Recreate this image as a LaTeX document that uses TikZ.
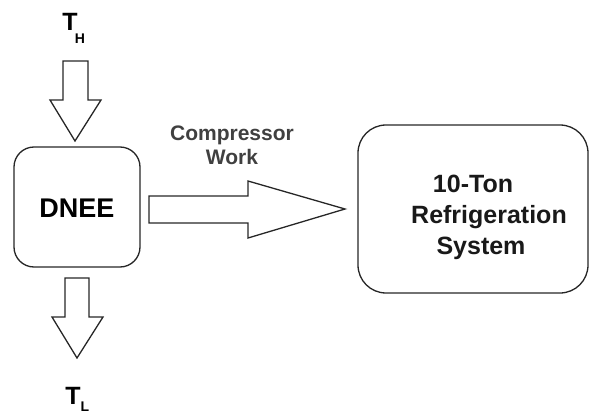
\documentclass[tikz,border=0pt]{standalone}
\usepackage{fontspec}
\setmainfont{Liberation Sans}
\begin{document}
\begin{tikzpicture}[x=1pt,y=-1pt,
  outline/.style={draw=black!85,line width=1.3pt,line join=miter},
  box/.style={outline,rounded corners=20pt},
  bigtxt/.style={font=\fontsize{27}{27}\selectfont\bfseries,inner sep=0pt},
  systxt/.style={font=\fontsize{25}{31}\selectfont\bfseries,align=center,inner sep=0pt,text=black!90},
  lbltxt/.style={font=\fontsize{21}{24}\selectfont\bfseries,align=center,inner sep=0pt,text=black!75},
  ttxt/.style={font=\fontsize{25}{25}\selectfont\bfseries,inner sep=0pt},
  subtxt/.style={font=\fontsize{14}{14}\selectfont\bfseries,inner sep=0pt}]
\useasboundingbox (0,0) rectangle (590,415);
% boxes
\draw[box] (14,147) rectangle (140,267);
\node[bigtxt] (dnee) at (77,208) {DNEE};
\draw[box,rounded corners=28pt] (358,125) rectangle (588,293);
\node[systxt] (sys) at (489,217) {\hspace*{-32pt}10-Ton\\Refrigeration\\\hspace*{-16pt}System};
% temperatures
\node[ttxt] (th) at (70,22) {T};
\node[subtxt] (thsub) at (80,39) {H};
\node[ttxt] (tl) at (73,396) {T};
\node[subtxt] (tlsub) at (85,407) {L};
% block arrows
\draw[outline] (63,61) -- (88,61) -- (88,100) -- (101,100) -- (75,141) -- (50,100) -- (63,100) -- cycle;
\draw[outline] (65,278) -- (89,278) -- (89,317) -- (103,317) -- (77,358) -- (52,317) -- (65,317) -- cycle;
\draw[outline] (149,196) -- (248,196) -- (248,181) -- (345,209) -- (248,238) -- (248,223) -- (149,223) -- cycle;
\node[lbltxt] (cw) at (232,145) {Compressor\\Work};
\end{tikzpicture}
\end{document}
